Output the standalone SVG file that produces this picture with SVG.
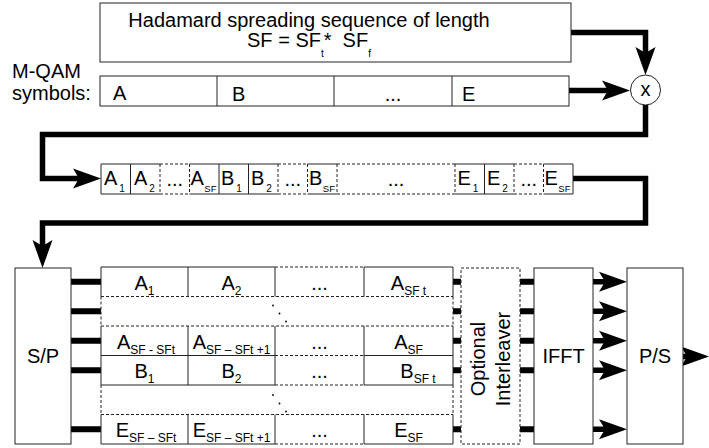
<svg xmlns="http://www.w3.org/2000/svg" width="709" height="448" viewBox="0 0 709 448">
<defs>
<style>
text{font-family:"Liberation Sans",Arial,sans-serif;fill:#000}
.f20{font-size:20px}
.box{fill:#fff;stroke:#222;stroke-width:1}
.dbox{fill:none;stroke:#222;stroke-width:1;stroke-dasharray:3 2}
.sl{fill:none;stroke:#222;stroke-width:1}
.dl{fill:none;stroke:#222;stroke-width:1;stroke-dasharray:3 2}
.con{fill:none;stroke:#000;stroke-width:5.5;stroke-linejoin:miter}
.stub{fill:none;stroke:#000;stroke-width:6}
.arr{marker-end:url(#ah)}
.m{text-anchor:middle}
</style>
<marker id="ah" markerUnits="userSpaceOnUse" viewBox="0 0 28 20" markerWidth="28" markerHeight="20" refX="6" refY="10" orient="auto" overflow="visible">
<path d="M0,0 L28,10 L0,20 L6,10 Z" fill="#000"/>
</marker>
</defs>
<rect width="709" height="448" fill="#fff"/>

<g id="connectors">
<path class="con arr" d="M571,32.5 H645.5 V53"/>
<path class="con arr" d="M569,90.5 H608"/>
<path class="con arr" d="M645.5,105 V134.5 H42.5 V178.5 H79"/>
<path class="con arr" d="M573,178.5 H645.5 V223 H42.5 V246"/>
<path class="stub" d="M71,281.75 H101 M71,311.25 H101 M71,340.75 H101 M71,370.25 H101 M71,429.25 H101"/>
<path class="stub" d="M453,281.75 H461 M453,311.25 H461 M453,340.75 H461 M453,370.25 H461 M453,429.25 H461"/>
<path class="stub" d="M520,281.75 H534 M520,311.25 H534 M520,340.75 H534 M520,370.25 H534 M520,429.25 H534"/>
<path class="con arr" d="M593,281.75 H605"/>
<path class="con arr" d="M593,311.25 H605"/>
<path class="con arr" d="M593,340.75 H605"/>
<path class="con arr" d="M593,370.25 H605"/>
<path class="con arr" d="M593,429.25 H605"/>
<path class="con arr" d="M683,356.5 H687"/>
</g>

<g id="hadamard">
<rect class="box" x="100" y="3" width="471" height="59"/>
<text class="f20 m" x="309" y="27">Hadamard spreading sequence of length</text>
<text class="f20 m" x="309" y="47">SF = SF<tspan font-size="10" dy="10">t</tspan><tspan dy="-10">*&#160;&#160;SF</tspan><tspan font-size="10" dy="10">f</tspan></text>
</g>

<g id="mqam-label">
<text class="f20" x="12" y="78">M-QAM</text>
<text class="f20" x="12" y="100">symbols:</text>
</g>

<g id="symbols">
<rect class="box" x="100" y="76" width="469" height="30"/>
<path class="sl" d="M217,76 V106 M334,76 V106 M452,76 V106"/>
<text class="f20" x="113" y="100">A</text>
<text class="f20" x="232" y="101">B</text>
<text class="f20 m" x="393" y="101">...</text>
<text class="f20" x="462" y="101">E</text>
</g>

<g id="multiplier">
<circle cx="645.5" cy="90" r="15" fill="#fff" stroke="#222" stroke-width="1"/>
<text class="f20 m" x="645.5" y="96">x</text>
</g>

<g id="spread-sequence">
<path class="sl" d="M101,164 V194 M130.5,164 V194 M219,164 V194 M248.5,164 V194 M484.5,164 V194 M573,164 V194 M101,164 H160 M189.5,164 H278 M307.5,164 H337 M455,164 H514 M543.5,164 H573 M101,194 H160 M189.5,194 H278 M307.5,194 H337 M455,194 H514 M543.5,194 H573"/>
<path class="dl" d="M160,164 V194 M189.5,164 V194 M278,164 V194 M307.5,164 V194 M337,164 V194 M455,164 V194 M514,164 V194 M543.5,164 V194 M160,164 H189.5 M278,164 H307.5 M337,164 H455 M514,164 H543.5 M160,194 H189.5 M278,194 H307.5 M337,194 H455 M514,194 H543.5"/>
<g class="f20">
<text x="104" y="185">A<tspan font-size="10" dx="2" dy="7">1</tspan></text>
<text x="134" y="185">A<tspan font-size="10" dx="2" dy="7">2</tspan></text>
<text class="m" x="174.75" y="186">...</text>
<text x="190.5" y="185">A<tspan font-size="9.5" dx="0.5" dy="7">SF</tspan></text>
<text x="221" y="185">B<tspan font-size="10" dx="2" dy="7">1</tspan></text>
<text x="251" y="185">B<tspan font-size="10" dx="2" dy="7">2</tspan></text>
<text class="m" x="292.75" y="186">...</text>
<text x="309" y="185">B<tspan font-size="9.5" dx="0.5" dy="7">SF</tspan></text>
<text class="m" x="396" y="186">...</text>
<text x="457.5" y="185">E<tspan font-size="10" dx="2" dy="7">1</tspan></text>
<text x="487" y="185">E<tspan font-size="10" dx="2" dy="7">2</tspan></text>
<text class="m" x="528.75" y="186">...</text>
<text x="544.5" y="185">E<tspan font-size="9.5" dx="0.5" dy="7">SF</tspan></text>
</g>
</g>

<g id="sp">
<rect class="box" x="15" y="268" width="56" height="176"/>
<text class="f20 m" x="43" y="363">S/P</text>
</g>

<g id="grid">
<path class="sl" d="M101,267 V296.5 M188,267 V296.5 M275,267 V296.5 M364,267 V296.5 M453,267 V296.5 M101,326 V385 M188,326 V385 M275,326 V385 M364,326 V385 M453,326 V385 M101,414.5 V444 M188,414.5 V444 M275,414.5 V444 M364,414.5 V444 M453,414.5 V444 M101,267 H275 M364,267 H453 M101,355.5 H275 M364,355.5 H453 M101,385 H275 M364,385 H453 M101,444 H275 M364,444 H453"/>
<path class="dl" d="M101,296.5 H453 M101,326 H453 M101,414.5 H453 M275,267 H364 M275,355.5 H364 M275,385 H364 M275,444 H364 M101,296.5 V326 M453,296.5 V326 M101,385 V414.5 M453,385 V414.5"/>
<g fill="#000">
<circle cx="273" cy="305.5" r="0.9"/><circle cx="279.5" cy="313.5" r="0.9"/><circle cx="286" cy="321.5" r="0.9"/>
<circle cx="273" cy="395" r="0.9"/><circle cx="279.5" cy="403.5" r="0.9"/><circle cx="286" cy="411.5" r="0.9"/>
</g>
<g class="f20 m">
<text x="144.5" y="289.5">A<tspan font-size="12" dy="5">1</tspan></text>
<text x="231.5" y="289.5">A<tspan font-size="12" dy="5">2</tspan></text>
<text x="319.5" y="289.5">...</text>
<text x="408.5" y="289.5">A<tspan font-size="12" dy="5">SF t</tspan></text>
<text x="146" y="348.5">A<tspan font-size="12" dy="5">SF - SFt</tspan></text>
<text x="231.5" y="348.5">A<tspan font-size="12" dy="5">SF – SFt +1</tspan></text>
<text x="319.5" y="348.5">...</text>
<text x="408.5" y="348.5">A<tspan font-size="12" dy="5">SF</tspan></text>
<text x="144.5" y="378">B<tspan font-size="12" dy="5">1</tspan></text>
<text x="231.5" y="378">B<tspan font-size="12" dy="5">2</tspan></text>
<text x="319.5" y="378">...</text>
<text x="418" y="378">B<tspan font-size="12" dy="5">SF t</tspan></text>
<text x="146" y="437">E<tspan font-size="12" dy="5">SF – SFt</tspan></text>
<text x="231.5" y="437">E<tspan font-size="12" dy="5">SF – SFt +1</tspan></text>
<text x="319.5" y="437">...</text>
<text x="408.5" y="437">E<tspan font-size="12" dy="5">SF</tspan></text>
</g>
</g>

<g id="interleaver">
<rect class="dbox" x="461" y="268" width="59" height="176"/>
<g transform="translate(490.5,356) rotate(-90)">
<text class="f20 m" x="-3" y="-5.5">Optional</text>
<text class="f20 m" x="-3" y="19.5">Interleaver</text>
</g>
</g>

<g id="ifft">
<rect class="box" x="534" y="268" width="59" height="176"/>
<text class="f20 m" x="563.5" y="363">IFFT</text>
</g>

<g id="ps">
<rect class="box" x="627" y="268" width="56" height="176"/>
<text class="f20 m" x="655" y="363">P/S</text>
</g>
</svg>
